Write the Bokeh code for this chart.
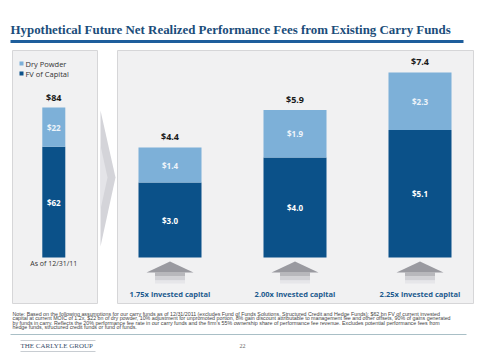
from bokeh.plotting import figure
from bokeh.models import Range1d, ColumnDataSource
from bokeh.embed import file_html
from bokeh.resources import INLINE
from bokeh.core.properties import value

# ---------------- data ----------------
title = "Hypothetical Future Net Realized Performance Fees from Existing Carry Funds"
series_names = ["Dry Powder", "FV of Capital"]
current_label = "As of 12/31/11"
current_fv = [62]
current_dry = [22]
scenarios = ["1.75x invested capital", "2.00x invested capital", "2.25x invested capital"]
fv_fees = [3.0, 4.0, 5.1]
dry_fees = [1.4, 1.9, 2.3]
note_lines = [
    "Note:  Based on the following assumptions for our carry funds as of 12/31/2011 (excludes Fund of Funds Solutions, Structured Credit and Hedge Funds): $62 bn FV of current invested",
    "capital at current MOIC of 1.2x, $22 bn of dry powder, 10% adjustment for unpromoted portion, 8% gain discount attributable to management fee and other offsets, 90% of gains generated",
    "by funds in carry. Reflects the 20% performance fee rate in our carry funds and the firm's 55% ownership share of performance fee revenue. Excludes potential performance fees from",
    "hedge funds, structured credit funds or fund of funds.",
]
company = "THE CARLYLE GROUP"
page_no = "22"

DARK = "#0B5189"
LIGHT = "#7DB0D8"
NAVY = "#1B4D7A"
SANS = "Open Sans"
SERIF = "Liberation Serif"

W, H = 480, 359
p = figure(width=W, height=H, output_backend="svg", toolbar_location=None,
           x_range=Range1d(0, W), y_range=Range1d(H, 0),
           min_border=0, outline_line_color=None, background_fill_color="white")
p.axis.visible = False
p.grid.visible = False

# scales for bars
base_y = 257.0
r_scale = 25.0          # px per unit right panel
l_scale = 150.0 / 84.0  # px per unit left panel
cx0, step = 169.5, 125.0
p.extra_y_ranges = {
    "ry": Range1d((base_y - H) / r_scale, base_y / r_scale),
    "ly": Range1d((base_y - H) / l_scale, base_y / l_scale),
}
p.extra_x_ranges = {"rx": Range1d(-cx0 / step, (W - cx0) / step)}

# ---------------- title ----------------
p.text(x=[10], y=[29], text=[title], text_font=value(SERIF), text_font_style="bold",
       text_font_size="12.9px", text_color=NAVY, text_baseline="middle")
p.segment(x0=[10], y0=[41], x1=[463], y1=[41], line_color="#1E5E9C", line_width=3)

# ---------------- panels ----------------
p.quad(left=[12, 117], right=[97, 473], top=[50, 50], bottom=[303, 303],
       fill_color="#F1F1F2", line_color="#D6D6D8", line_width=1)
# chevron
p.patch(x=[100, 115, 100], y=[110, 177, 246], fill_color="#D4D4D9", line_color=None)
p.patch(x=[100, 107, 100], y=[145, 177, 209], fill_color="#E4E4E8", line_color=None)

# ---------------- left panel ----------------
p.rect(x=[21, 21], y=[63, 73], width=4, height=4, fill_color=[LIGHT, DARK], line_color=None)
p.text(x=[25, 25], y=[63, 73], text=series_names, text_font=value(SANS),
       text_font_size="7.5px", text_color="#333333", text_baseline="middle")

lsrc = ColumnDataSource(dict(x=[53.3], fv=current_fv, dry=current_dry,
                             tot=[a + b for a, b in zip(current_fv, current_dry)]))
p.vbar(x="x", bottom=0, top="fv", width=23, source=lsrc, y_range_name="ly",
       fill_color=DARK, line_color=None)
p.vbar(x="x", bottom="fv", top="tot", width=23, source=lsrc, y_range_name="ly",
       fill_color=LIGHT, line_color=None)
p.text(x=[53.3], y=[current_fv[0] / 2], text=[f"${current_fv[0]}"], y_range_name="ly",
       text_font=value(SANS), text_font_style="bold", text_font_size="8px",
       text_color="white", text_align="center", text_baseline="middle")
p.text(x=[53.3], y=[current_fv[0] + current_dry[0] / 2], text=[f"${current_dry[0]}"],
       y_range_name="ly", text_font=value(SANS), text_font_style="bold",
       text_font_size="8px", text_color="#EEF4FA", text_align="center", text_baseline="middle")
p.text(x=[53.3], y=[current_fv[0] + current_dry[0]], text=[f"${current_fv[0] + current_dry[0]}"],
       y_range_name="ly", y_offset=-10, text_font=value(SANS), text_font_style="bold",
       text_font_size="9px", text_color="#1A1A1A", text_align="center", text_baseline="middle")
p.text(x=[53.3], y=[263], text=[current_label], text_font=value(SANS),
       text_font_size="7px", text_color="#333333", text_align="center", text_baseline="middle")

# ---------------- right panel ----------------
idx = list(range(len(scenarios)))
tot = [round(a + b, 1) for a, b in zip(fv_fees, dry_fees)]
rsrc = ColumnDataSource(dict(
    x=idx, fv=fv_fees, dry=dry_fees, tot=tot,
    fv_mid=[v / 2 for v in fv_fees],
    dry_mid=[a + b / 2 for a, b in zip(fv_fees, dry_fees)],
    fv_lab=[f"${v:.1f}" for v in fv_fees],
    dry_lab=[f"${v:.1f}" for v in dry_fees],
    tot_lab=[f"${v:.1f}" for v in tot],
    cat=scenarios,
))
bw = 63 / step
p.vbar(x="x", bottom=0, top="fv", width=bw, source=rsrc, x_range_name="rx",
       y_range_name="ry", fill_color=DARK, line_color=None)
p.vbar(x="x", bottom="fv", top="tot", width=bw, source=rsrc, x_range_name="rx",
       y_range_name="ry", fill_color=LIGHT, line_color=None)
p.text(x="x", y="fv_mid", text="fv_lab", source=rsrc, x_range_name="rx", y_range_name="ry",
       text_font=value(SANS), text_font_style="bold", text_font_size="8px",
       text_color="white", text_align="center", text_baseline="middle")
p.text(x="x", y="dry_mid", text="dry_lab", source=rsrc, x_range_name="rx", y_range_name="ry",
       text_font=value(SANS), text_font_style="bold", text_font_size="8px",
       text_color="#EEF4FA", text_align="center", text_baseline="middle")
p.text(x="x", y="tot", text="tot_lab", source=rsrc, x_range_name="rx", y_range_name="ry",
       y_offset=-11, text_font=value(SANS), text_font_style="bold", text_font_size="9px",
       text_color="#1A1A1A", text_align="center", text_baseline="middle")

# arrows
hw, sw = 23.5 / step, 15 / step
for i in idx:
    p.quad(left=[i - sw], right=[i + sw], top=[272], bottom=[276], x_range_name="rx",
           fill_color="#B8B8BC", line_color=None)
    p.quad(left=[i - sw], right=[i + sw], top=[276], bottom=[280], x_range_name="rx",
           fill_color="#D2D2D6", line_color=None)
    p.quad(left=[i - sw], right=[i + sw], top=[280], bottom=[283], x_range_name="rx",
           fill_color="#E6E6E9", line_color=None)
    p.patch(x=[i - hw, i, i + hw], y=[272, 261, 272], x_range_name="rx",
            fill_color="#9A9AA0", line_color=None)

p.text(x="x", y=293, text="cat", source=rsrc, x_range_name="rx",
       text_font=value(SANS), text_font_style="bold", text_font_size="7.5px",
       text_color="#1C5A8E", text_align="center", text_baseline="middle")

# ---------------- note & footer ----------------
p.text(x=[12] * len(note_lines), y=[313, 317.5, 322, 326.5], text=note_lines,
       text_font=value("Liberation Sans"), text_font_size="5.3px", text_color="#444444",
       text_baseline="middle")
p.segment(x0=[10], y0=[334], x1=[466], y1=[334], line_color="#A9BFC6", line_width=1)
p.segment(x0=[20, 20], y0=[340, 351], x1=[95, 95], y1=[340, 351], line_color="#C8CDD2", line_width=1)
p.text(x=[20], y=[345.5], text=[company], text_font=value(SERIF), text_font_size="7px",
       text_color="#3A4F6A", text_baseline="middle")
p.text(x=[242], y=[345], text=[page_no], text_font=value(SERIF), text_font_size="6px",
       text_color="#666666", text_align="center", text_baseline="middle")

open("out.html", "w").write(file_html(p, INLINE))
